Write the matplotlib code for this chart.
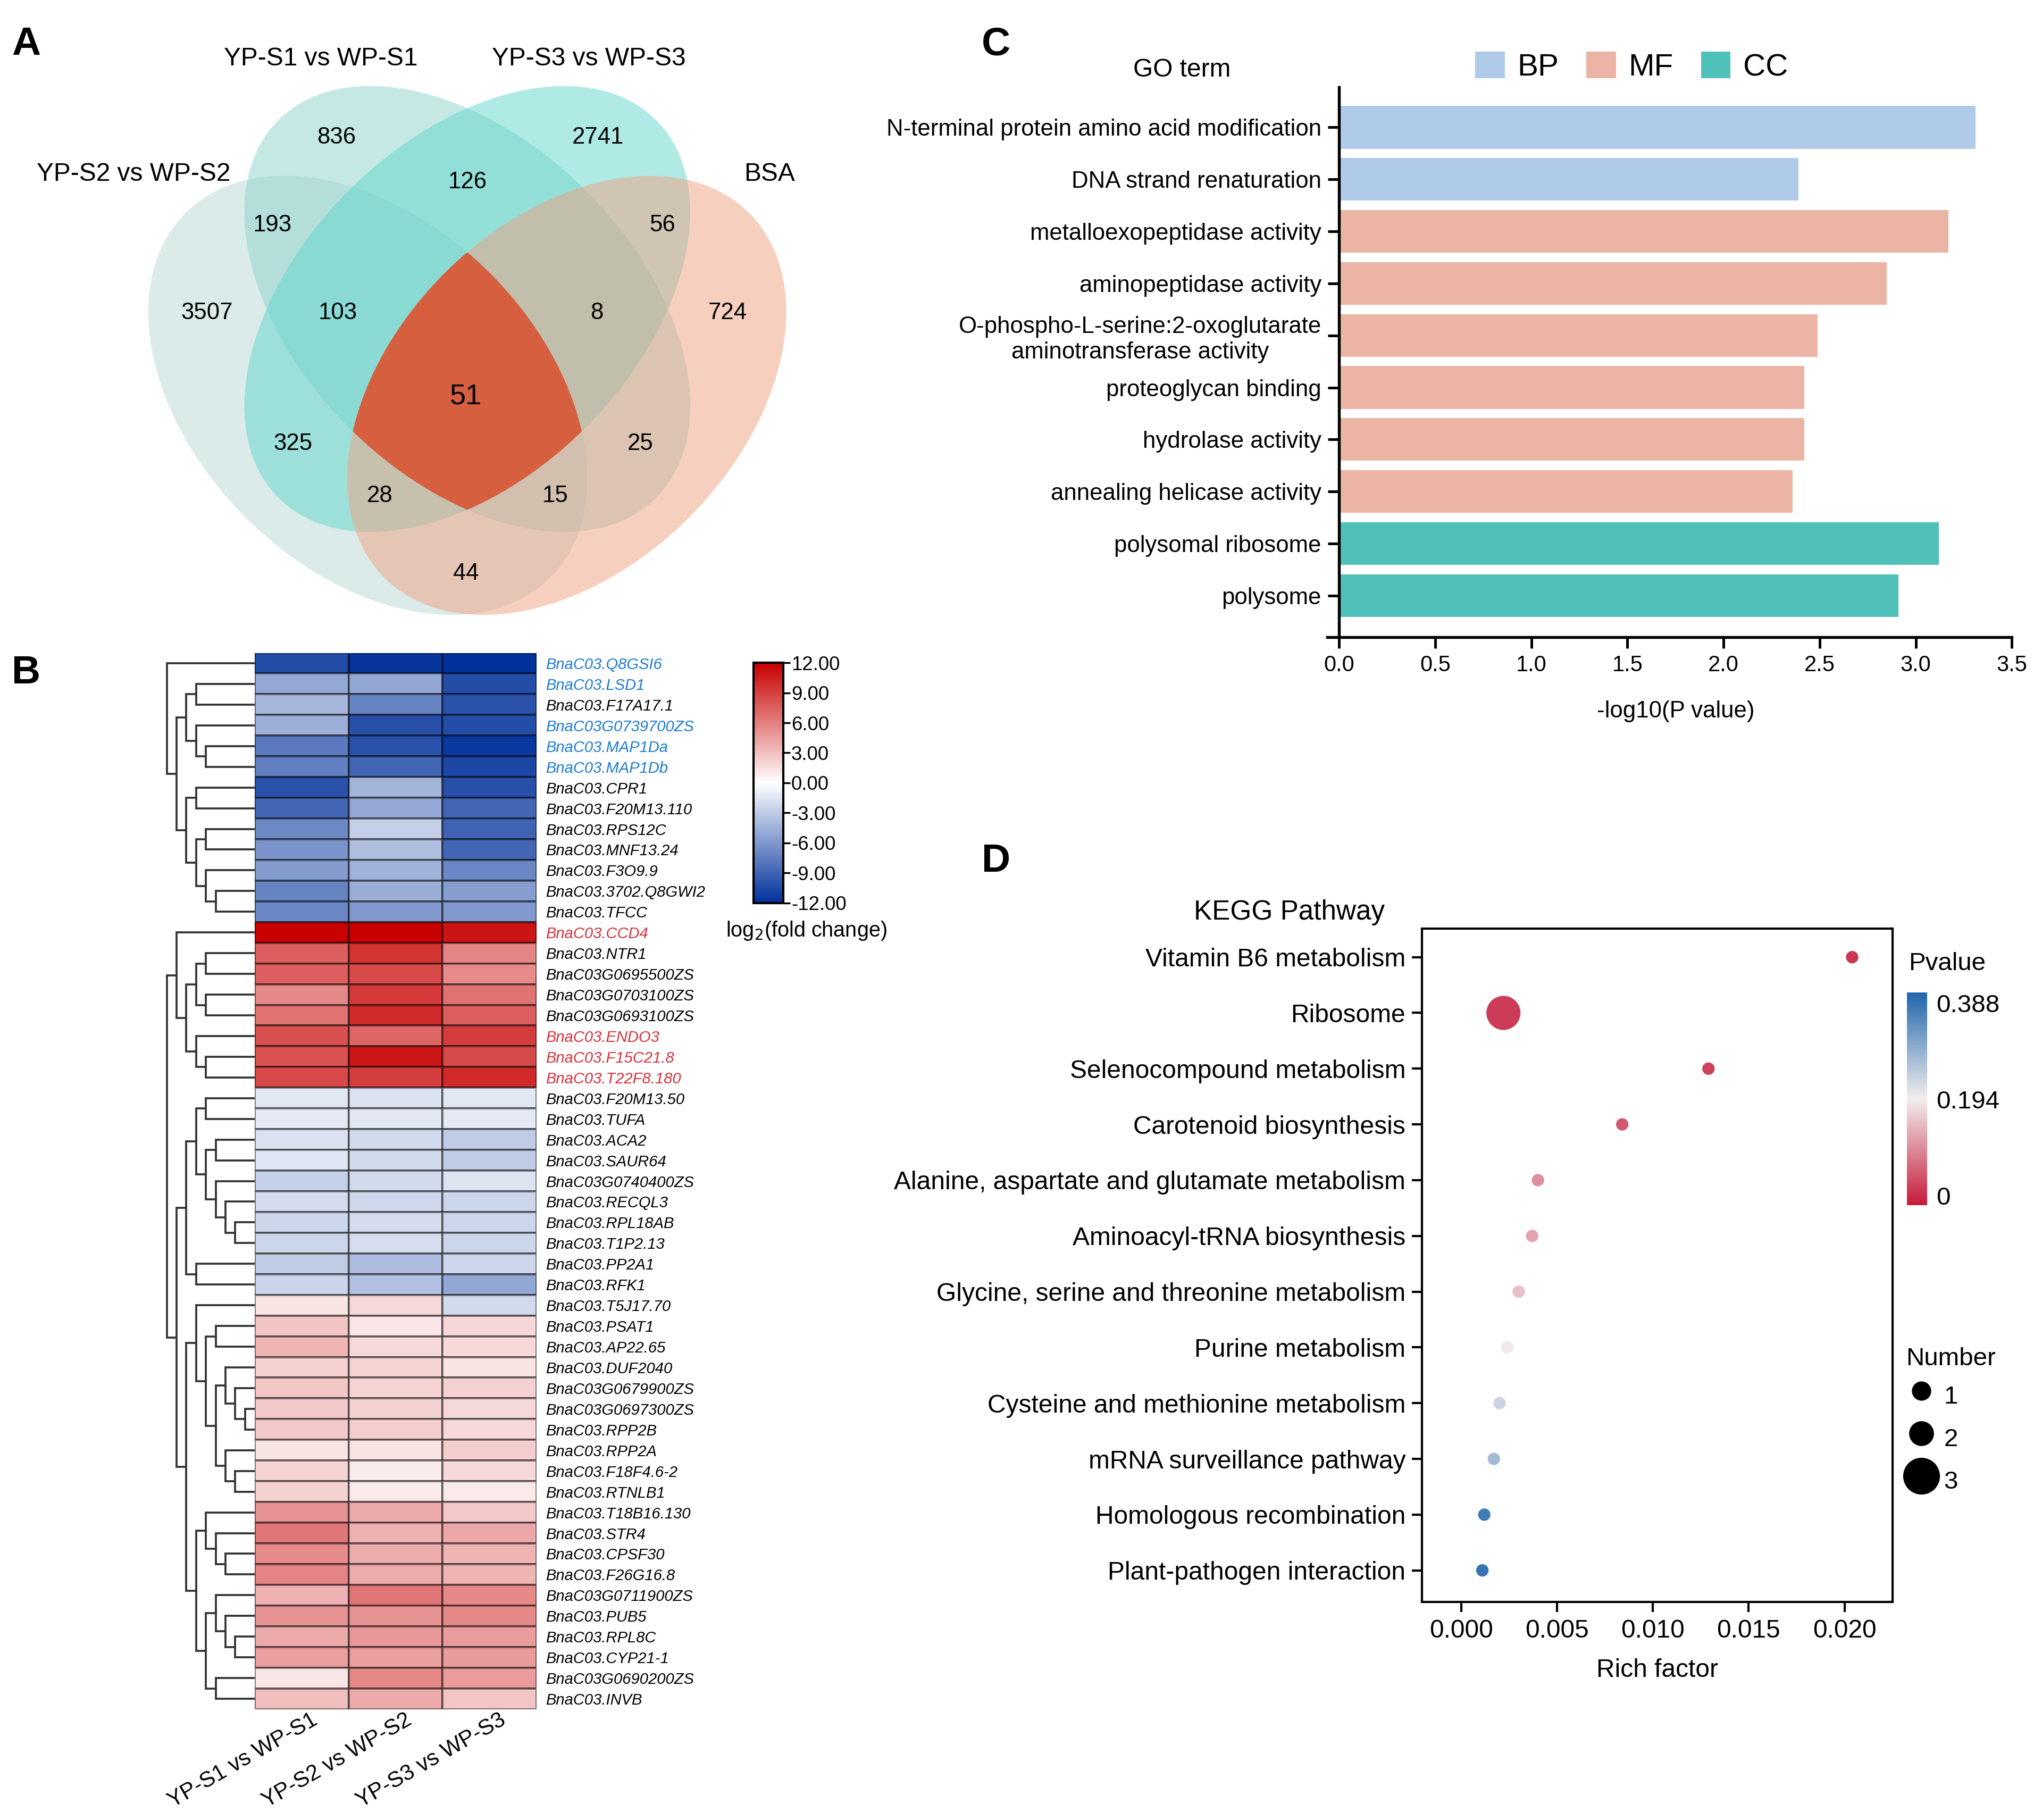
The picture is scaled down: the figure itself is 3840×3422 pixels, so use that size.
import numpy as np
import matplotlib
matplotlib.use("Agg")
import matplotlib.pyplot as plt
from matplotlib.patches import Polygon, Patch
from matplotlib.lines import Line2D
from matplotlib.colors import LinearSegmentedColormap, Normalize
from matplotlib.cm import ScalarMappable
from matplotlib.transforms import ScaledTranslation

plt.rcParams['font.family'] = ['Liberation Sans', 'DejaVu Sans']

# ---------------- data ----------------
# A: Venn (regions of S2 / S1 / S3 / BSA)
venn_names = ["YP-S2 vs WP-S2", "YP-S1 vs WP-S1", "YP-S3 vs WP-S3", "BSA"]
venn_regions = ["S2", "S1", "S3", "BSA", "S1&S2", "S1&S3", "S3&BSA", "S2&BSA",
                "S1&S2&S3", "S1&S3&BSA", "S2&S3", "S1&BSA", "S2&S3&BSA", "S1&S2&BSA", "all"]
venn_values = [3507, 836, 2741, 724, 193, 126, 56, 44, 103, 8, 325, 25, 28, 15, 51]

# B: heatmap log2 fold change
genes = ["BnaC03.Q8GSI6", "BnaC03.LSD1", "BnaC03.F17A17.1", "BnaC03G0739700ZS", "BnaC03.MAP1Da",
         "BnaC03.MAP1Db", "BnaC03.CPR1", "BnaC03.F20M13.110", "BnaC03.RPS12C", "BnaC03.MNF13.24",
         "BnaC03.F3O9.9", "BnaC03.3702.Q8GWI2", "BnaC03.TFCC", "BnaC03.CCD4", "BnaC03.NTR1",
         "BnaC03G0695500ZS", "BnaC03G0703100ZS", "BnaC03G0693100ZS", "BnaC03.ENDO3", "BnaC03.F15C21.8",
         "BnaC03.T22F8.180", "BnaC03.F20M13.50", "BnaC03.TUFA", "BnaC03.ACA2", "BnaC03.SAUR64",
         "BnaC03G0740400ZS", "BnaC03.RECQL3", "BnaC03.RPL18AB", "BnaC03.T1P2.13", "BnaC03.PP2A1",
         "BnaC03.RFK1", "BnaC03.T5J17.70", "BnaC03.PSAT1", "BnaC03.AP22.65", "BnaC03.DUF2040",
         "BnaC03G0679900ZS", "BnaC03G0697300ZS", "BnaC03.RPP2B", "BnaC03.RPP2A", "BnaC03.F18F4.6-2",
         "BnaC03.RTNLB1", "BnaC03.T18B16.130", "BnaC03.STR4", "BnaC03.CPSF30", "BnaC03.F26G16.8",
         "BnaC03G0711900ZS", "BnaC03.PUB5", "BnaC03.RPL8C", "BnaC03.CYP21-1", "BnaC03G0690200ZS",
         "BnaC03.INVB"]
fc_s1 = [-10.3, -5.0, -4.2, -4.6, -7.7, -7.4, -10.0, -8.8, -6.9, -6.2, -5.8, -7.2, -7.0,
         12.0, 7.5, 7.5, 5.6, 6.6, 8.2, 8.1, 8.5,
         -1.4, -1.3, -1.7, -1.5, -2.8, -2.0, -2.4, -2.4, -3.0, -2.5,
         1.3, 2.8, 3.5, 2.2, 2.7, 2.6, 2.6, 1.3, 2.0, 2.1,
         5.1, 6.4, 5.5, 5.8, 3.7, 5.1, 4.0, 4.5, 1.2, 3.0]
fc_s2 = [-11.7, -5.1, -7.2, -10.1, -10.0, -8.9, -4.3, -5.0, -2.8, -3.7, -4.5, -4.7, -6.0,
         12.0, 9.5, 8.5, 9.2, 10.0, 7.2, 10.9, 9.0,
         -1.7, -1.4, -2.1, -2.1, -2.1, -2.3, -2.0, -1.9, -3.8, -3.6,
         1.8, 1.2, 1.8, 2.0, 2.0, 2.1, 2.3, 1.4, 0.9, 1.0,
         4.0, 3.6, 3.9, 3.9, 6.4, 5.1, 4.8, 4.5, 5.6, 4.0]
fc_s3 = [-12.0, -10.3, -10.0, -10.3, -11.5, -10.6, -10.1, -8.8, -9.0, -8.8, -7.0, -5.7, -6.0,
         11.0, 5.7, 5.5, 6.6, 7.5, 9.1, 8.5, 10.0,
         -1.4, -1.3, -3.0, -3.0, -1.6, -2.4, -2.4, -2.4, -2.4, -5.1,
         -2.1, 1.9, 1.8, 1.3, 2.2, 1.8, 1.8, 2.3, 1.8, 1.0,
         2.6, 4.1, 3.5, 3.5, 5.6, 5.6, 4.6, 4.7, 4.6, 2.7]
samples = ["YP-S1 vs WP-S1", "YP-S2 vs WP-S2", "YP-S3 vs WP-S3"]
genes_blue = ["BnaC03.Q8GSI6", "BnaC03.LSD1", "BnaC03G0739700ZS", "BnaC03.MAP1Da", "BnaC03.MAP1Db"]
genes_red = ["BnaC03.CCD4", "BnaC03.ENDO3", "BnaC03.F15C21.8", "BnaC03.T22F8.180"]

# row dendrogram: (left, right, merge height), leaves are row indices
tree_up = (0, (((1, 2, 6), (3, (4, 5, 5), 6), 7),
               ((6, 7, 6), ((8, 9, 5), (10, (11, 12, 4), 5), 6), 7), 8), 9)
tree_r1 = (13, (((14, 15, 5), (16, 17, 5), 6), (18, (19, 20, 5), 6), 7), 8)
tree_y = (((21, 22, 5), ((23, 24, 4), (25, (26, (27, 28, 2), 3), 4), 5), 6), (29, 30, 6), 7)
tree_zl = (31, ((32, 33, 4), ((34, (35, (36, 37, 1), 2), 3), (38, (39, 40, 2), 3), 4), 5), 6)
tree_zr = ((41, (42, (43, 44, 3), 4), 5), ((45, (46, (47, 48, 2), 3), 4), (49, 50, 4), 5), 6)
tree_down = (tree_r1, (tree_y, (tree_zl, tree_zr, 7), 8), 9)

# C: GO enrichment
go_terms = ["N-terminal protein amino acid modification", "DNA strand renaturation",
            "metalloexopeptidase activity", "aminopeptidase activity",
            "O-phospho-L-serine:2-oxoglutarate\naminotransferase activity",
            "proteoglycan binding", "hydrolase activity", "annealing helicase activity",
            "polysomal ribosome", "polysome"]
go_values = [3.31, 2.39, 3.17, 2.85, 2.49, 2.42, 2.42, 2.36, 3.12, 2.91]
go_class = ["BP", "BP", "MF", "MF", "MF", "MF", "MF", "MF", "CC", "CC"]

# D: KEGG enrichment
kegg_terms = ["Vitamin B6 metabolism", "Ribosome", "Selenocompound metabolism",
              "Carotenoid biosynthesis", "Alanine, aspartate and glutamate metabolism",
              "Aminoacyl-tRNA biosynthesis", "Glycine, serine and threonine metabolism",
              "Purine metabolism", "Cysteine and methionine metabolism",
              "mRNA surveillance pathway", "Homologous recombination", "Plant-pathogen interaction"]
rich_factor = [0.0204, 0.0022, 0.0129, 0.0084, 0.0040, 0.0037, 0.0030, 0.0024, 0.0020, 0.0017, 0.0012, 0.0011]
kegg_p = [0.010, 0.015, 0.020, 0.045, 0.100, 0.120, 0.150, 0.190, 0.235, 0.275, 0.375, 0.388]
kegg_n = [1, 3, 1, 1, 1, 1, 1, 1, 1, 1, 1, 1]

# ---------------- figure ----------------
W, H = 1560.0, 1390.2
fig = plt.figure(figsize=(12.8, 11.4067), dpi=300)


def add_ax(x, y, w, h):
    return fig.add_axes([x / W, 1 - (y + h) / H, w / W, h / H])


def ftext(x, y, s, **kw):
    return fig.text(x / W, 1 - y / H, s, **kw)


for lab, x, y in [("A", 20, 34), ("B", 20, 514), ("C", 761, 34), ("D", 761, 658)]:
    ftext(x, y, lab, fontsize=18, fontweight="bold", ha="center", va="center")

# ---- A: venn ----
axA = add_ax(0, 0, 700, 490)
axA.set_xlim(0, 700)
axA.set_ylim(490, 0)
axA.axis("off")
ell = {"S2": (281, 302, 197, 132, 45), "S1": (357, 236, 204, 128, 45),
       "S3": (357, 236, 204, 128, -45), "BSA": (433, 302, 197, 132, -45)}
ell_col = {"S2": "#b7d9d5", "S1": "#8dd3cd", "S3": "#61d7cd", "BSA": "#f1a181"}
t = np.linspace(0, 2 * np.pi, 1500)


def ell_pts(e):
    cx, cy, a, b, ang = e
    p = np.deg2rad(ang)
    x = cx + a * np.cos(t) * np.cos(p) - b * np.sin(t) * np.sin(p)
    y = cy + a * np.cos(t) * np.sin(p) + b * np.sin(t) * np.cos(p)
    return np.column_stack([x, y])


def inside(pts, e, tol=1e-6):
    cx, cy, a, b, ang = e
    p = np.deg2rad(ang)
    dx, dy = pts[:, 0] - cx, pts[:, 1] - cy
    u = dx * np.cos(p) + dy * np.sin(p)
    v = -dx * np.sin(p) + dy * np.cos(p)
    return (u / a) ** 2 + (v / b) ** 2 <= 1 + tol

for k in ["S2", "S1", "S3", "BSA"]:
    axA.add_patch(Polygon(ell_pts(ell[k]), closed=True, facecolor=ell_col[k], alpha=0.5, lw=0))

# core: intersection of all four sets
core = []
for k in ell:
    pts = ell_pts(ell[k])
    m = np.ones(len(pts), bool)
    for j in ell:
        if j != k:
            m &= inside(pts, ell[j], 1e-3)
    core.append(pts[m])
core = np.vstack(core)
c0 = core.mean(axis=0)
core = core[np.argsort(np.arctan2(core[:, 1] - c0[1], core[:, 0] - c0[0]))]
axA.add_patch(Polygon(core, closed=True, facecolor="#d65f40", lw=0))

venn_pos = {"S2": (158, 239), "S1": (257, 105), "S3": (457, 105), "BSA": (556, 239),
            "S1&S2": (208, 172), "S1&S3": (357, 139), "S3&BSA": (506, 172), "S2&BSA": (356, 438),
            "S1&S2&S3": (258, 239), "S1&S3&BSA": (456, 239), "S2&S3": (224, 339), "S1&BSA": (489, 339),
            "S2&S3&BSA": (290, 379), "S1&S2&BSA": (424, 379), "all": (356, 303)}
for r, v in zip(venn_regions, venn_values):
    x, y = venn_pos[r]
    axA.text(x, y, str(v), ha="center", va="center", fontsize=13 if r == "all" else 10.5)
for name, (x, y) in zip(venn_names, [(102, 133), (245, 45), (450, 45), (588, 133)]):
    axA.text(x, y, name, ha="center", va="center", fontsize=11.5)

# ---- B: heatmap ----
fc = np.column_stack([fc_s1, fc_s2, fc_s3])
nrow = len(genes)
hm_cmap = LinearSegmentedColormap.from_list("hm", ["#00309a", "#ffffff", "#c80000"])
axB = add_ax(194.6, 498.7, 215.4, 806.8)
axB.pcolormesh(np.arange(4), np.arange(nrow + 1), fc, cmap=hm_cmap, vmin=-12, vmax=12,
               edgecolors=(0, 0, 0, 0.45), linewidth=0.5)
axB.set_xlim(0, 3)
axB.set_ylim(nrow, 0)
for s in axB.spines.values():
    s.set_visible(False)
axB.yaxis.tick_right()
axB.set_yticks(np.arange(nrow) + 0.5)
axB.set_yticklabels(genes, fontsize=7, fontstyle="italic")
axB.tick_params(axis="y", length=0, pad=4)
for lbl in axB.get_yticklabels():
    g = lbl.get_text()
    if g in genes_blue:
        lbl.set_color("#1e7bd6")
    elif g in genes_red:
        lbl.set_color("#d8323a")
axB.set_xticks(np.arange(3) + 0.5)
axB.set_xticklabels(samples, rotation=30, ha="right", rotation_mode="anchor", fontsize=10)
axB.tick_params(axis="x", length=0, pad=0)
for lbl in axB.get_xticklabels():
    lbl.set_transform(lbl.get_transform() + ScaledTranslation(4 / 72, 0, fig.dpi_scale_trans))

axT = add_ax(120, 498.7, 74.6, 806.8)
axT.set_xlim(10, 0)
axT.set_ylim(nrow, 0)
axT.axis("off")


def draw_tree(node):
    if isinstance(node, int):
        return node + 0.5, 0
    l, r, h = node
    yl, hl = draw_tree(l)
    yr, hr = draw_tree(r)
    axT.plot([hl, h, h, hr], [yl, yl, yr, yr], color="#333333", lw=0.9, solid_joinstyle="miter")
    return (yl + yr) / 2, h

draw_tree(tree_up)
draw_tree(tree_down)

caxB = add_ax(575.5, 506.2, 23.1, 183.6)
cb = fig.colorbar(ScalarMappable(Normalize(-12, 12), hm_cmap), cax=caxB, ticks=np.arange(-12, 13, 3))
cb.ax.set_yticklabels(["%.2f" % v for v in np.arange(-12, 13, 3)], fontsize=8.8)
cb.ax.tick_params(length=3, width=0.8, pad=0.5)
cb.outline.set_linewidth(1.0)
ftext(616, 711, "log$_2$(fold change)", ha="center", va="center", fontsize=9.5)

# ---- C: GO bar ----
go_col = {"BP": "#b0cbea", "MF": "#ecb4a5", "CC": "#4fc1b8"}
axC = add_ax(1023, 66.7, 514, 420)
ypos = np.arange(len(go_terms))
axC.barh(ypos, go_values, height=0.82, color=[go_col[c] for c in go_class])
axC.set_xlim(0, 3.5)
axC.set_ylim(len(go_terms) - 1 + 0.8, -0.77)
axC.set_yticks(ypos)
axC.set_yticklabels(go_terms, fontsize=10.5, multialignment="center")
axC.set_xticks(np.arange(0, 3.51, 0.5))
axC.set_xticklabels(["%.1f" % v for v in np.arange(0, 3.51, 0.5)], fontsize=10)
axC.spines["top"].set_visible(False)
axC.spines["right"].set_visible(False)
for s in ["left", "bottom"]:
    axC.spines[s].set_linewidth(1.3)
axC.spines["bottom"].set_bounds(-0.06, 3.5)
axC.tick_params(length=5, width=1.2, pad=3)
axC.set_xlabel("-log10(P value)", fontsize=10.5, labelpad=11)
ftext(903, 53.6, "GO term", ha="center", va="center", fontsize=11.5)
fig.legend(handles=[Patch(facecolor=go_col[k], label=k) for k in ["BP", "MF", "CC"]],
           loc="center left", bbox_to_anchor=(1127 / W, 1 - 51 / H), ncol=3, frameon=False,
           fontsize=14, handlelength=0.95, handleheight=0.95, handletextpad=0.4,
           columnspacing=0.9, borderpad=0, borderaxespad=0)

# ---- D: KEGG dot plot ----
p_cmap = LinearSegmentedColormap.from_list("pv", ["#c51b3a", "#f2eeee", "#2166ac"])
p_norm = Normalize(-0.019, 0.41)
axD = add_ax(1086.5, 709.4, 359.2, 514.4)
ky = np.arange(len(kegg_terms))
dot_d = {1: 5.6, 2: 10.2, 3: 15.4}
axD.scatter(rich_factor, ky, s=[dot_d[n] ** 2 for n in kegg_n], c=kegg_p, cmap=p_cmap,
            norm=p_norm, linewidths=0, zorder=3)
axD.set_xlim(-0.00204, 0.0225)
axD.set_ylim(len(kegg_terms) - 1 + 0.57, -0.51)
axD.set_yticks(ky)
axD.set_yticklabels(kegg_terms, fontsize=11.5)
axD.set_xticks([0, 0.005, 0.01, 0.015, 0.02])
axD.set_xticklabels(["0.000", "0.005", "0.010", "0.015", "0.020"], fontsize=11.5)
axD.tick_params(length=4.5, width=1.0, pad=3)
for s in axD.spines.values():
    s.set_linewidth(1.0)
axD.set_xlabel("Rich factor", fontsize=11.5, labelpad=7)
ftext(985, 697, "KEGG Pathway", ha="center", va="center", fontsize=12.3)

caxD = add_ax(1457, 758, 15.4, 162.6)
cbd = fig.colorbar(ScalarMappable(p_norm, p_cmap), cax=caxD, ticks=[0, 0.194, 0.388])
cbd.ax.set_yticklabels(["0", "0.194", "0.388"], fontsize=11.4)
cbd.ax.tick_params(length=0, pad=4)
cbd.outline.set_visible(False)
ftext(1458, 736, "Pvalue", ha="left", va="center", fontsize=11.4)

leg_n = [1, 2, 3]
leg_d = [7.7, 10.2, 15.6]
handles = [Line2D([], [], marker="o", ls="", color="black", markersize=d) for d in leg_d]
lg = axD.legend(handles, [str(n) for n in leg_n], title="Number", loc="upper left",
                bbox_to_anchor=(1456 / W, 1 - 1029 / H), bbox_transform=fig.transFigure,
                frameon=False, fontsize=11.4, title_fontsize=11.4, alignment="left",
                handletextpad=0.3, labelspacing=0.3, handleheight=1.75, borderpad=0,
                borderaxespad=0, handlelength=1.2)

fig.savefig("out.png", dpi=300)
